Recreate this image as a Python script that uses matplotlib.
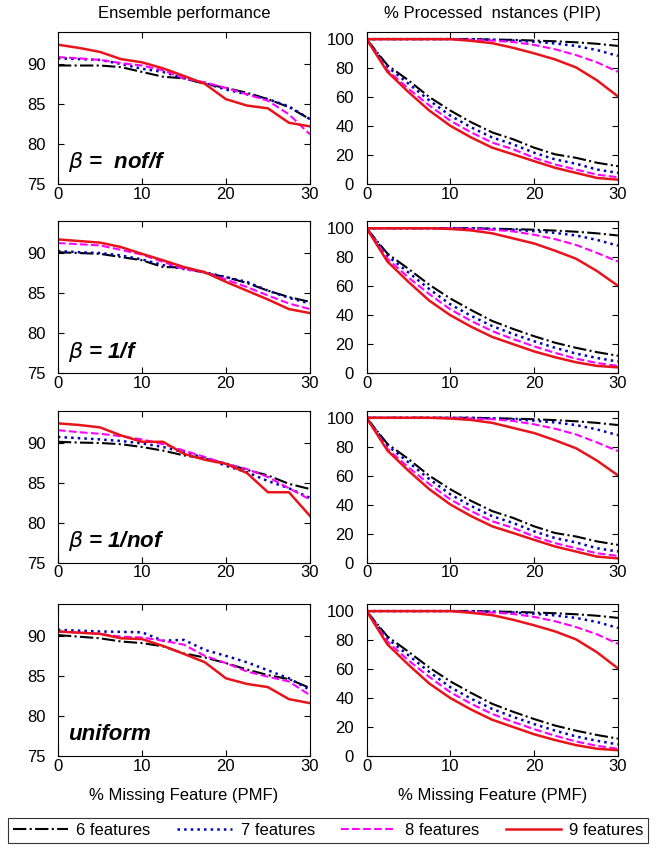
import numpy as np
import matplotlib.pyplot as plt

plt.rcParams['font.family'] = ['Liberation Sans', 'DejaVu Sans']

pmf = [0, 2.5, 5, 7.5, 10, 12.5, 15, 17.5, 20, 22.5, 25, 27.5, 30]
labels = ['6 features', '7 features', '8 features', '9 features']
row_names = [r'$\beta$ =  nof/f', r'$\beta$ = 1/f', r'$\beta$ = 1/nof', 'uniform']

# ensemble performance, one list per feature count (6, 7, 8, 9)
perf_nof_f = [
    [89.8, 89.8, 89.8, 89.6, 89.0, 88.4, 88.2, 87.5, 87.0, 86.4, 85.6, 84.6, 83.1],
    [90.7, 90.6, 90.5, 90.0, 89.4, 89.0, 88.2, 87.6, 86.8, 86.2, 85.6, 84.7, 83.1],
    [90.85, 90.7, 90.5, 90.1, 89.8, 89.2, 88.2, 87.7, 87.0, 86.2, 85.4, 83.7, 81.2],
    [92.4, 92.0, 91.5, 90.6, 90.2, 89.45, 88.5, 87.5, 85.6, 84.8, 84.45, 82.65, 82.2],
]
perf_1_f = [
    [90.1, 90.0, 89.9, 89.5, 89.1, 88.25, 88.2, 87.5, 87.0, 86.25, 85.3, 84.5, 83.9],
    [90.25, 90.1, 90.0, 89.7, 89.2, 88.5, 88.0, 87.6, 87.0, 86.4, 85.3, 84.4, 83.7],
    [91.25, 91.1, 90.95, 90.4, 89.8, 88.9, 88.0, 87.6, 86.7, 85.75, 84.7, 83.7, 83.0],
    [91.7, 91.5, 91.3, 90.75, 89.9, 89.1, 88.25, 87.6, 86.4, 85.3, 84.2, 83.0, 82.5],
]
perf_1_nof = [
    [90.1, 90.0, 89.95, 89.8, 89.45, 89.0, 88.4, 88.0, 87.4, 86.6, 85.9, 84.85, 84.2],
    [90.7, 90.55, 90.4, 90.2, 89.9, 89.45, 88.8, 88.1, 87.1, 86.3, 85.2, 84.3, 83.1],
    [91.55, 91.3, 91.1, 90.8, 90.4, 89.8, 89.0, 88.2, 87.35, 86.7, 85.7, 84.3, 82.9],
    [92.4, 92.2, 91.9, 90.9, 90.1, 90.1, 88.6, 87.85, 87.35, 86.2, 83.8, 83.8, 80.85],
]
perf_uniform = [
    [90.1, 89.9, 89.7, 89.3, 89.1, 88.7, 87.8, 87.3, 86.6, 85.8, 85.1, 84.6, 83.5],
    [90.75, 90.65, 90.55, 90.5, 90.45, 89.4, 89.5, 88.25, 87.5, 86.7, 85.7, 84.7, 83.25],
    [90.55, 90.4, 90.25, 89.9, 89.8, 89.4, 88.9, 87.5, 86.6, 85.55, 84.9, 84.3, 82.6],
    [90.55, 90.4, 90.25, 89.7, 89.6, 88.75, 87.75, 86.7, 84.7, 84.0, 83.6, 82.1, 81.6],
]

# % processed instances: upper and lower curve per feature count
pip_upper_a = [
    [100, 100, 100, 100, 100, 100, 99.7, 99.5, 99.0, 98.5, 97.8, 96.8, 95.3],
    [100, 100, 100, 100, 100, 100, 99.5, 99.0, 98.2, 97.0, 95.3, 92.5, 88.4],
    [100, 100, 100, 100, 100, 99.5, 99.0, 98.0, 96.0, 93.0, 89.0, 84.0, 77.4],
    [100, 100, 100, 100, 100, 98.8, 97.2, 94.0, 90.2, 86.0, 80.5, 71.6, 60.5],
]
pip_upper_b = [
    [100, 100, 100, 100, 100, 100, 99.7, 99.4, 99.0, 98.4, 97.6, 96.5, 95.0],
    [100, 100, 100, 100, 100, 100, 99.5, 99.0, 98.0, 96.8, 95.0, 92.0, 88.0],
    [100, 100, 100, 100, 100, 99.5, 99.0, 97.8, 95.5, 92.5, 88.5, 83.0, 77.0],
    [100, 100, 100, 100, 99.5, 98.5, 96.5, 93.0, 89.5, 84.5, 79.0, 70.5, 60.3],
]
pip_lower_a = [
    [100, 82.0, 71.6, 60.0, 50.7, 42.6, 35.6, 30.9, 25.1, 20.5, 18.1, 14.7, 12.3],
    [100, 80.9, 69.3, 57.7, 47.2, 39.1, 32.1, 27.4, 21.6, 17.0, 14.0, 10.0, 7.7],
    [100, 78.6, 65.8, 54.2, 43.7, 35.6, 28.6, 24.0, 18.1, 13.5, 10.0, 6.5, 4.7],
    [100, 77.4, 63.5, 50.7, 40.2, 32.1, 25.1, 20.5, 15.8, 11.2, 7.7, 4.2, 3.0],
]
pip_lower_b = [
    [100, 82.5, 72.0, 61.0, 51.5, 43.5, 36.0, 30.5, 25.5, 21.0, 17.5, 14.5, 12.0],
    [100, 81.0, 69.5, 58.0, 47.5, 39.5, 32.5, 27.0, 22.0, 17.5, 13.5, 10.5, 8.0],
    [100, 79.0, 66.0, 54.5, 44.0, 36.0, 29.0, 23.5, 18.5, 14.0, 10.0, 7.0, 5.0],
    [100, 77.0, 63.0, 50.0, 40.0, 32.0, 25.0, 20.0, 15.0, 11.0, 7.5, 5.0, 4.0],
]

perf_rows = [perf_nof_f, perf_1_f, perf_1_nof, perf_uniform]
pip_rows = [(pip_upper_a, pip_lower_a), (pip_upper_b, pip_lower_b),
            (pip_upper_b, pip_lower_a), (pip_upper_a, pip_lower_b)]

colors = ['black', '#0000b4', '#ff00ff', '#e8141b']
styles = ['-.', ':', '--', '-']
widths = [1.5, 1.8, 1.5, 1.8]

fig = plt.figure(figsize=(6.58, 8.5), dpi=100)
bottoms = [0.7835, 0.561, 0.338, 0.1106]
h = 0.179


def style_ax(ax):
    ax.tick_params(direction='in', top=True, right=True, length=4, labelsize=12)
    ax.tick_params(axis='y', pad=9)
    ax.tick_params(axis='x', pad=2)
    ax.set_xlim(0, 30)
    ax.set_xticks([0, 10, 20, 30])
    for sp in ax.spines.values():
        sp.set_linewidth(0.8)


handles = []
for r in range(4):
    axl = fig.add_axes([0.088, bottoms[r], 0.383, h])
    axr = fig.add_axes([0.557, bottoms[r], 0.382, h])
    for k in range(4):
        ln, = axl.plot(pmf, perf_rows[r][k], linestyle=styles[k], color=colors[k], lw=widths[k])
        if r == 0:
            handles.append(ln)
        up, lo = pip_rows[r]
        axr.plot(pmf, up[k], linestyle=styles[k], color=colors[k], lw=widths[k])
        axr.plot(pmf, lo[k], linestyle=styles[k], color=colors[k], lw=widths[k])
    axl.set_ylim(75, 94)
    axl.set_yticks([75, 80, 85, 90])
    axr.set_ylim(0, 105)
    axr.set_yticks([0, 20, 40, 60, 80, 100])
    style_ax(axl)
    style_ax(axr)
    axl.text(1.2, 77.7, row_names[r], fontsize=16, fontweight='bold', fontstyle='italic',
             va='center', ha='left')
    if r == 0:
        axl.set_title('Ensemble performance', fontsize=12, pad=10)
        axr.set_title('% Processed  nstances (PIP)', fontsize=12, pad=10)
    if r == 3:
        axl.set_xlabel('% Missing Feature (PMF)', fontsize=12, labelpad=10)
        axr.set_xlabel('% Missing Feature (PMF)', fontsize=12, labelpad=10)

leg = fig.legend(handles, labels, loc='lower left',
                 bbox_to_anchor=(0.0122, 0.0082, 0.973, 0.0365),
                 ncol=4, fontsize=12, handlelength=3.3, columnspacing=1.0,
                 handletextpad=0.5, fancybox=False, edgecolor='black',
                 borderpad=0.3, mode='expand', borderaxespad=0,
                 bbox_transform=fig.transFigure)
leg.get_frame().set_linewidth(0.8)

fig.savefig('out.png', dpi=100)
